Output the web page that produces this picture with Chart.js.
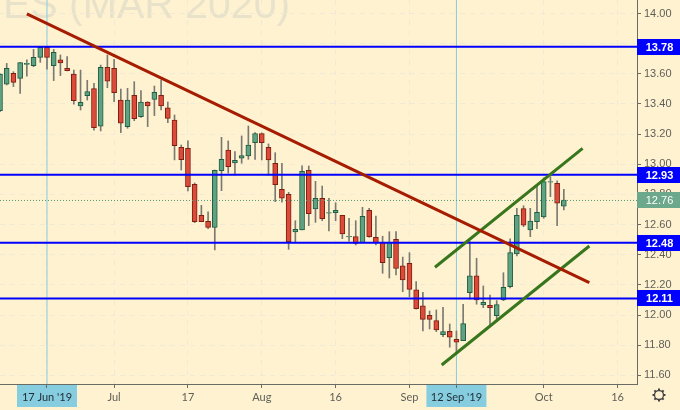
<!DOCTYPE html>
<html>
<head>
<meta charset="utf-8">
<style>
  html, body { margin: 0; padding: 0; background: #fff2d0; }
  #wrap { width: 680px; height: 410px; }
</style>
<script src="https://cdn.jsdelivr.net/npm/chart.js@4"></script>
</head>
<body>
<div id="wrap"><canvas id="esChart"></canvas></div>
<script>
// candles, one per trading day, index 0 sits on the left edge
const opens = [13.355,13.532,13.603,13.570,13.663,13.654,13.709,13.776,13.654,13.692,13.636,13.599,13.387,13.455,13.502,13.252,13.643,13.636,13.426,13.250,13.457,13.316,13.413,13.431,13.457,13.375,13.294,13.113,13.106,12.867,12.662,12.622,12.582,12.958,13.095,13.009,13.040,13.055,13.143,13.203,13.113,13.007,12.834,12.801,12.551,12.564,12.960,12.704,12.775,12.676,12.679,12.662,12.519,12.520,12.480,12.695,12.516,12.483,12.381,12.503,12.326,12.344,12.167,12.062,11.999,11.963,11.870,11.893,11.840,11.830,12.149,12.261,12.067,12.065,11.996,12.100,12.188,12.405,12.706,12.564,12.619,12.651,12.882,12.874,12.723];
const closes = [13.599,13.636,13.543,13.674,13.669,13.709,13.776,13.709,13.742,13.672,13.621,13.422,13.411,13.482,13.243,13.643,13.552,13.475,13.272,13.426,13.303,13.413,13.387,13.477,13.387,13.305,13.123,13.031,12.851,12.619,12.619,12.582,12.960,13.033,12.984,13.027,13.057,13.128,13.203,13.143,13.029,12.865,12.775,12.485,12.569,12.954,12.672,12.775,12.639,12.679,12.695,12.538,12.522,12.476,12.655,12.520,12.480,12.348,12.483,12.309,12.233,12.171,12.043,11.972,11.972,11.901,11.890,11.853,11.820,11.943,12.261,12.100,12.085,12.049,12.069,12.184,12.414,12.662,12.596,12.624,12.682,12.885,12.885,12.743,12.763];
const highs = [13.600,13.669,13.614,13.676,13.692,13.762,13.780,13.780,13.762,13.725,13.714,13.625,13.625,13.557,13.537,13.658,13.725,13.696,13.499,13.504,13.548,13.488,13.415,13.519,13.559,13.413,13.327,13.128,13.155,12.876,12.728,12.684,12.962,13.179,13.155,13.084,13.188,13.254,13.210,13.208,13.135,13.077,13.007,12.814,12.626,12.989,12.989,12.887,12.856,12.775,12.745,12.662,12.642,12.626,12.715,12.708,12.657,12.523,12.553,12.553,12.385,12.414,12.222,12.151,12.027,12.034,12.052,11.941,11.895,12.072,12.487,12.377,12.193,12.133,12.096,12.281,12.505,12.708,12.725,12.708,12.863,12.910,12.918,12.891,12.834];
const lows = [13.349,13.526,13.515,13.470,13.585,13.647,13.676,13.630,13.555,13.588,13.619,13.398,13.360,13.426,13.227,13.221,13.508,13.415,13.210,13.239,13.289,13.311,13.250,13.323,13.360,13.276,13.029,12.962,12.823,12.613,12.619,12.573,12.432,12.825,12.942,12.929,13.007,13.033,13.033,13.029,12.929,12.752,12.748,12.436,12.487,12.564,12.593,12.615,12.626,12.558,12.626,12.507,12.491,12.465,12.480,12.516,12.465,12.277,12.246,12.266,12.155,12.122,12.039,11.895,11.908,11.890,11.857,11.787,11.747,11.830,12.105,12.072,12.049,11.934,11.956,12.096,12.180,12.392,12.586,12.520,12.573,12.642,12.785,12.593,12.697];

const yTicks = [14.0,13.8,13.6,13.4,13.2,13.0,12.8,12.6,12.4,12.2,12.0,11.8,11.6];
const xTickIndex = [7,17,28,39,50,61,68,81,92];
const xTickLabels = ["17 Jun '19","Jul","17","Aug","16","Sep","12 Sep '19","Oct","16"];
const markedTicks = [7,68];

const levels = [13.78,12.93,12.48,12.11];
const lastPrice = 12.76;

const trendRed = [{x:4.0,y:13.997},{x:87.8,y:12.215}];
const trendGreenUpper = [{x:64.8,y:12.317},{x:86.8,y:13.106}];
const trendGreenLower = [{x:65.8,y:11.669},{x:87.8,y:12.458}];

const xMin = 0, xMax = 94.9;
const yMin = 11.543, yMax = 14.0895;

const BG = "#fff2d0";
const GRID = "#efe9d6";
const AXIS = "#6b6b66";
const TEXT = "#5f5f5a";
const UP = "#5fa283", UP_EDGE = "#1f5c42";
const DOWN = "#dc4a39", DOWN_EDGE = "#7d1f12";
const FONT = "'Liberation Sans', Arial, sans-serif";

const isUp = i => closes[i] >= opens[i];

const levelLine = (v, color, width, dash) => ({
  type: "line",
  data: [{x:xMin,y:v},{x:xMax,y:v}],
  borderColor: color,
  borderWidth: width,
  borderDash: dash || [],
  pointRadius: 0,
  order: 2,
});
const trendLine = (pts, color) => ({
  type: "line",
  data: pts,
  borderColor: color,
  borderWidth: 3,
  borderCapStyle: "butt",
  pointRadius: 0,
  order: 1,
});
const crossLine = (i) => ({
  type: "line",
  data: [{x:i,y:yMin},{x:i,y:yMax}],
  borderColor: "#86cde0",
  borderWidth: 1,
  pointRadius: 0,
  order: 6,
});

// watermark, price tags and date tags
const overlay = {
  id: "overlay",
  beforeDraw(chart) {
    const { ctx, width, scales: { x } } = chart;
    ctx.save();
    ctx.fillStyle = BG;
    ctx.fillRect(0, 0, width, chart.height);
    ctx.fillStyle = "#e9e2ca";
    ctx.font = "41px " + FONT;
    ctx.textBaseline = "alphabetic";
    ctx.textAlign = "left";
    ctx.fillText("ES (MAR 2020)", 3, 18);
    ctx.fillStyle = "#86cde0";
    markedTicks.forEach(i => {
      const px = x.getPixelForValue(i);
      ctx.fillRect(px - 30, 385, 60, 22);
    });
    ctx.restore();
  },
  afterDraw(chart) {
    const { ctx, width, scales: { y } } = chart;
    const left = chart.chartArea.right;
    ctx.save();
    ctx.textAlign = "center";
    ctx.textBaseline = "middle";
    const tag = (v, bg, font) => {
      const py = Math.round(y.getPixelForValue(v));
      ctx.fillStyle = bg;
      ctx.fillRect(left, py - 8, width - left, 16);
      ctx.fillStyle = "#ffffff";
      ctx.font = font;
      ctx.fillText(v.toFixed(2), (left + width) / 2 + 1, py + 0.5);
    };
    levels.forEach(v => tag(v, "#0000ff", "bold 11px " + FONT));
    tag(lastPrice, "#6ba88c", "11px " + FONT);
    // settings gear
    const cx = 659, cy = 395;
    ctx.strokeStyle = "#444";
    ctx.lineWidth = 1.3;
    ctx.beginPath();
    ctx.arc(cx, cy, 4.5, 0, Math.PI * 2);
    ctx.stroke();
    ctx.lineWidth = 2;
    for (let a = 0; a < 8; a++) {
      const t = a * Math.PI / 4;
      ctx.beginPath();
      ctx.moveTo(cx + Math.cos(t) * 4.5, cy + Math.sin(t) * 4.5);
      ctx.lineTo(cx + Math.cos(t) * 6.5, cy + Math.sin(t) * 6.5);
      ctx.stroke();
    }
    ctx.restore();
  },
};

new Chart(document.getElementById("esChart"), {
  type: "bar",
  data: {
    datasets: [
      trendLine(trendRed, "#a61c00"),
      trendLine(trendGreenUpper, "#38761d"),
      trendLine(trendGreenLower, "#38761d"),
      ...levels.map(v => levelLine(v, "#0000ff", 2)),
      levelLine(lastPrice, "#4f9a78", 1, [1, 2]),
      crossLine(markedTicks[0]),
      crossLine(markedTicks[1]),
      {
        label: "body",
        data: opens.map((o, i) => ({ x: i, y: [o, closes[i]] })),
        backgroundColor: ctx => isUp(ctx.dataIndex) ? UP : DOWN,
        borderColor: ctx => isUp(ctx.dataIndex) ? UP_EDGE : DOWN_EDGE,
        borderWidth: 1,
        borderSkipped: false,
        barThickness: 5,
        grouped: false,
        order: 4,
      },
      {
        label: "wick",
        data: highs.map((h, i) => ({ x: i, y: [lows[i], h] })),
        backgroundColor: "#7a7a72",
        borderWidth: 0,
        barThickness: 1,
        grouped: false,
        order: 5,
      },
    ],
  },
  options: {
    responsive: true,
    maintainAspectRatio: false,
    animation: false,
    layout: { padding: 0, autoPadding: false },
    plugins: { legend: { display: false }, tooltip: { enabled: false } },
    scales: {
      x: {
        type: "linear",
        offset: false,
        min: xMin,
        max: xMax,
        afterBuildTicks: s => { s.ticks = xTickIndex.map(v => ({ value: v })); },
        afterFit: s => { s.height = 26; s.paddingLeft = 0; s.paddingRight = 0; },
        grid: { color: GRID, tickColor: AXIS, tickLength: 4, offset: false },
        border: { color: AXIS, dash: [5, 5] },
        ticks: {
          autoSkip: false,
          maxRotation: 0,
          padding: 3,
          color: ctx => markedTicks.includes(ctx.tick.value) ? "#1f2d33" : TEXT,
          font: { size: 11, family: "Lato, sans-serif" },
          callback: v => xTickLabels[xTickIndex.indexOf(v)],
        },
      },
      y: {
        position: "right",
        min: yMin,
        max: yMax,
        afterBuildTicks: s => { s.ticks = yTicks.map(v => ({ value: v })); },
        afterFit: s => { s.width = 43; s.paddingTop = 0; s.paddingBottom = 0; },
        grid: { color: GRID, tickColor: AXIS, tickLength: 4 },
        border: { color: AXIS, dash: [5, 5] },
        ticks: {
          padding: 3,
          color: TEXT,
          font: { size: 11, family: FONT },
          callback: v => v.toFixed(2),
        },
      },
    },
  },
  plugins: [overlay],
});
</script>
</body>
</html>
